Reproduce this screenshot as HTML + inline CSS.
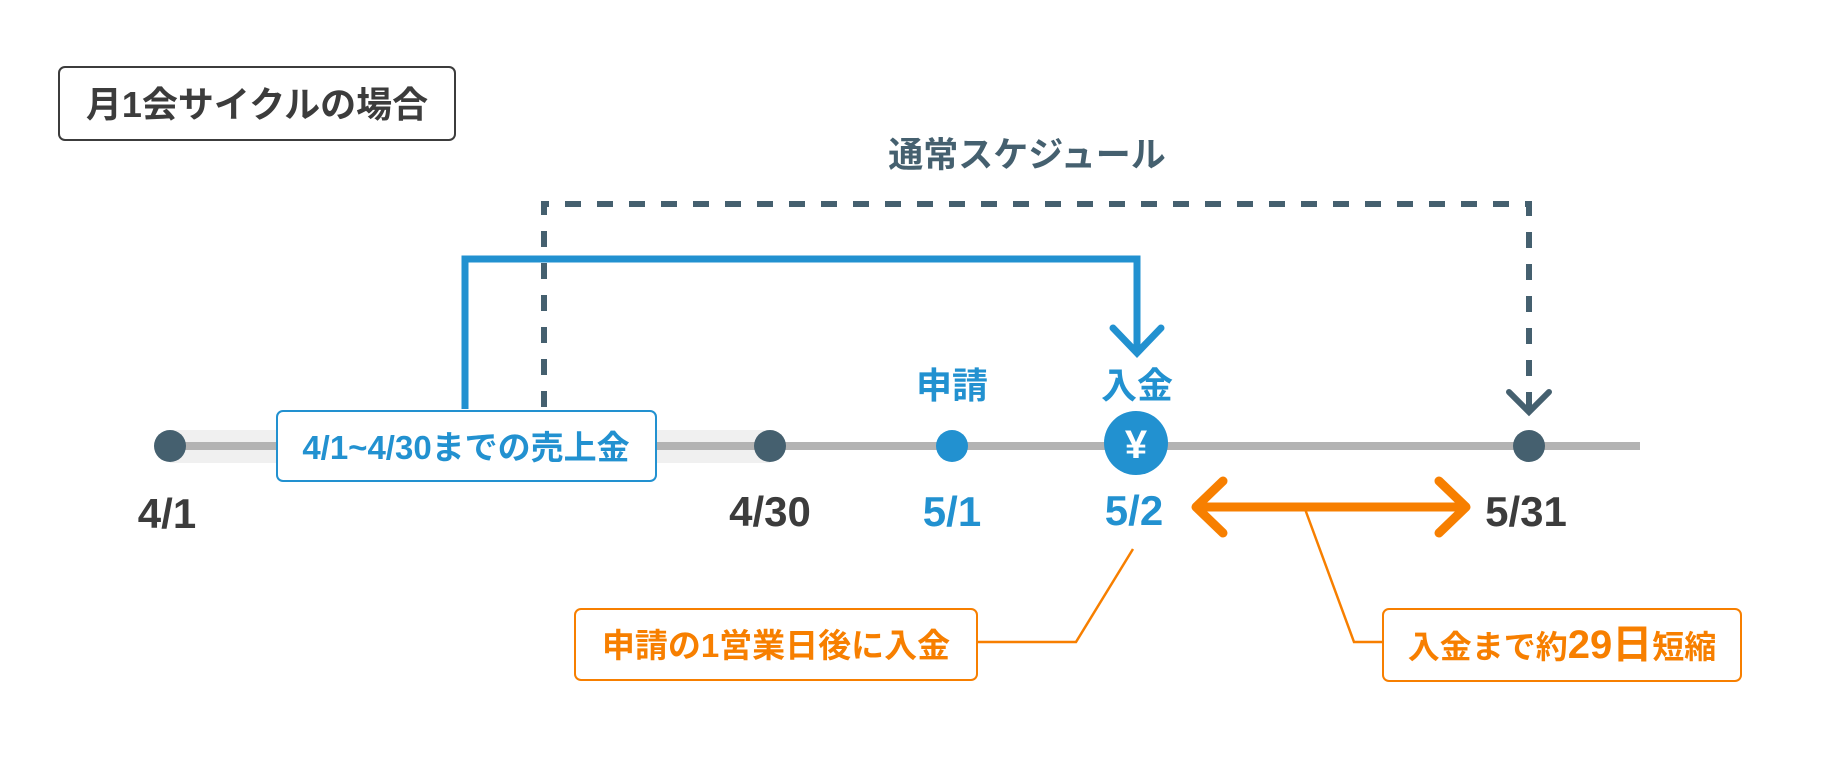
<!DOCTYPE html>
<html><head><meta charset="utf-8"><style>
html,body{margin:0;padding:0;background:#fff}
svg{display:block}
text{font-family:"Liberation Sans","Noto Sans CJK JP",sans-serif;font-weight:bold}
</style></head><body>
<svg width="1840" height="764" viewBox="0 0 1840 764" xmlns="http://www.w3.org/2000/svg">
<rect x="59" y="67" width="396" height="73" rx="6" fill="#fff" stroke="#3c3c3c" stroke-width="2"/>
<text x="257" y="117" font-size="36" fill="#3c3c3c" text-anchor="middle">月1会サイクルの場合</text>
<text x="1027" y="167" font-size="35" fill="#45606f" text-anchor="middle">通常スケジュール</text>
<!-- dashed -->
<path d="M544 407 V204 H1529 V410" fill="none" stroke="#45606f" stroke-width="6" stroke-dasharray="16 16"/>
<path d="M1509 392 L1529 412 L1549 392" fill="none" stroke="#45606f" stroke-width="6" stroke-linecap="round"/>
<!-- timeline -->
<rect x="170" y="430" width="600" height="33" fill="#f0f0f0"/>
<line x1="170" y1="446" x2="1640" y2="446" stroke="#b3b3b3" stroke-width="8"/>
<!-- blue path -->
<path d="M465 409 V259 H1137 V352" fill="none" stroke="#2291d0" stroke-width="7"/>
<path d="M1113 328 L1137 353 L1161 328" fill="none" stroke="#2291d0" stroke-width="7" stroke-linecap="round"/>
<circle cx="170" cy="446" r="16" fill="#45606f"/>
<circle cx="770" cy="446" r="16" fill="#45606f"/>
<circle cx="952" cy="446" r="16" fill="#2291d0"/>
<circle cx="1136" cy="443" r="32" fill="#2291d0"/>
<text x="1136" y="458" font-size="40" fill="#fff" text-anchor="middle">¥</text>
<circle cx="1529" cy="446" r="16" fill="#45606f"/>
<rect x="277" y="411" width="379" height="70" rx="6" fill="#fff" stroke="#2291d0" stroke-width="2"/>
<text x="466" y="459" font-size="33" fill="#2291d0" text-anchor="middle">4/1~4/30までの売上金</text>
<text x="952" y="398" font-size="36" fill="#2291d0" text-anchor="middle">申請</text>
<text x="1137" y="398" font-size="36" fill="#2291d0" text-anchor="middle">入金</text>
<text x="167" y="528" font-size="42" fill="#3c3c3c" text-anchor="middle">4/1</text>
<text x="770" y="526" font-size="42" fill="#3c3c3c" text-anchor="middle">4/30</text>
<text x="952" y="526" font-size="42" fill="#2291d0" text-anchor="middle">5/1</text>
<text x="1134" y="525" font-size="42" fill="#2291d0" text-anchor="middle">5/2</text>
<text x="1526" y="526" font-size="42" fill="#3c3c3c" text-anchor="middle">5/31</text>
<!-- orange arrow -->
<line x1="1197" y1="507" x2="1463" y2="507" stroke="#f77f00" stroke-width="9"/>
<path d="M1223 481 L1196 507 L1223 533 M1439 481 L1466 507 L1439 533" fill="none" stroke="#f77f00" stroke-width="9" stroke-linecap="round" stroke-linejoin="round"/>
<path d="M1133 549 L1076 642 H977" fill="none" stroke="#f77f00" stroke-width="2.5"/>
<path d="M1305 509 L1354 642 H1383" fill="none" stroke="#f77f00" stroke-width="2.5"/>
<rect x="575" y="609" width="402" height="71" rx="6" fill="#fff" stroke="#f77f00" stroke-width="2"/>
<text x="776" y="657" font-size="33" fill="#f77f00" text-anchor="middle">申請の1営業日後に入金</text>
<rect x="1383" y="609" width="358" height="72" rx="6" fill="#fff" stroke="#f77f00" stroke-width="2"/>
<text x="1562" y="658" font-size="32" fill="#f77f00" text-anchor="middle">入金まで約<tspan font-size="40">29日</tspan>短縮</text>
</svg>
</body></html>
